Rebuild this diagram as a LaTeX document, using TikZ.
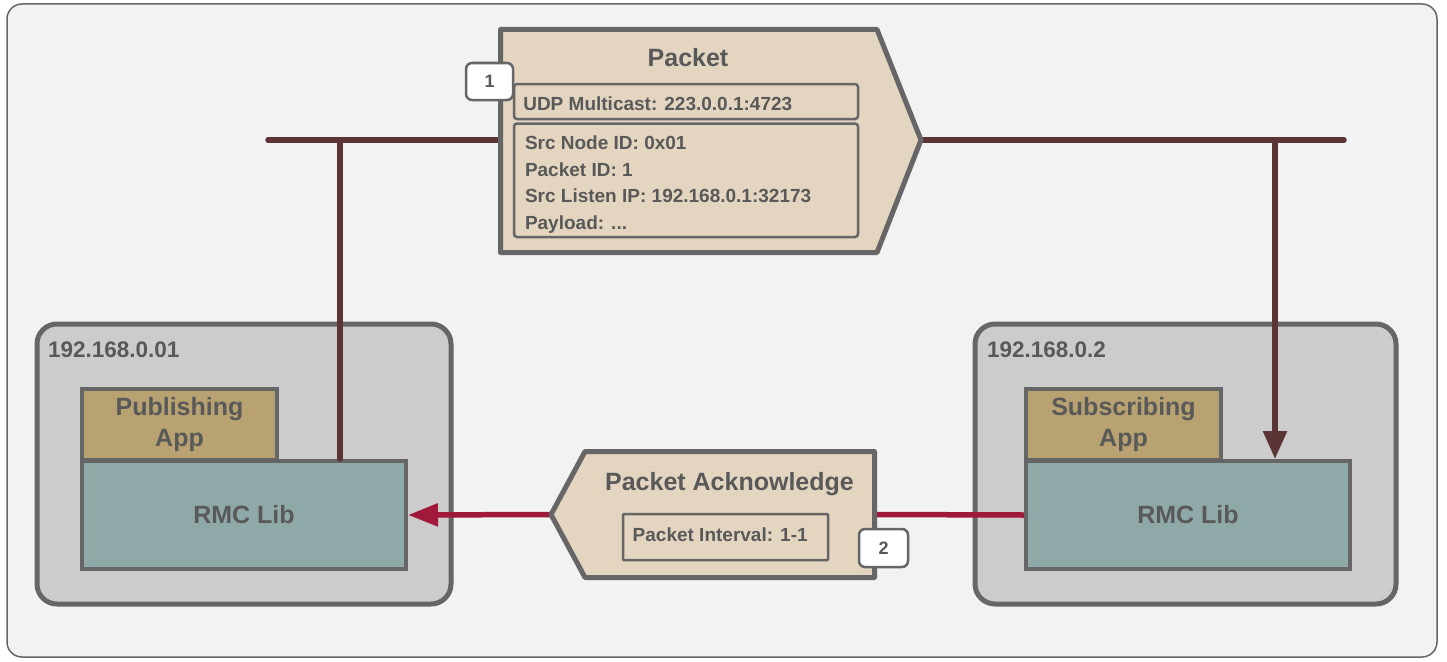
\documentclass[tikz,border=0pt]{standalone}
\usepackage{fontspec}
\setmainfont{Liberation Sans}
\usetikzlibrary{arrows.meta}
\definecolor{bgc}{HTML}{F2F2F2}
\definecolor{edge}{HTML}{666666}
\definecolor{hostc}{HTML}{CCCCCC}
\definecolor{msgc}{HTML}{E3D5C0}
\definecolor{appc}{HTML}{B9A271}
\definecolor{libc}{HTML}{8FA9A9}
\definecolor{busc}{HTML}{5B3536}
\definecolor{ackc}{HTML}{A0193A}
\definecolor{txtc}{HTML}{595959}
\newcommand\fbig{\fontsize{25}{30.5}\selectfont\bfseries}
\newcommand\fmid{\fontsize{22.5}{26}\selectfont\bfseries}
\newcommand\fsmall{\fontsize{19}{22}\selectfont\bfseries}
\newcommand\fbadge{\fontsize{18}{20}\selectfont\bfseries}
\tikzset{
  every node/.style={text=txtc, inner sep=0pt, outer sep=0pt},
  hostbox/.style={draw=edge, fill=hostc, line width=5pt, rounded corners=20pt},
  appbox/.style={draw=edge, fill=appc, line width=4pt, align=center, font=\fbig},
  libbox/.style={draw=edge, fill=libc, line width=4pt, outer sep=2pt, font=\fbig},
  msgshape/.style={draw=edge, fill=msgc, line width=5pt, line join=round},
  fieldbox/.style={draw=edge, line width=2.5pt, rounded corners=3pt},
  badge/.style={draw=edge, fill=white, line width=2.5pt, rounded corners=6pt, font=\fbadge},
  bus/.style={draw=busc, line width=5.5pt, line cap=round},
  ackline/.style={draw=ackc, line width=5.5pt},
  fieldtxt/.style={anchor=base west, font=\fsmall},
}
\begin{document}
\begin{tikzpicture}[x=1pt,y=-1pt]
\useasboundingbox (0,0) rectangle (1447,661);
\draw[draw=edge, fill=bgc, line width=1.5pt, rounded corners=15pt] (7,4) rectangle (1437,657);

% bus
\coordinate (busL) at (268,140);
\coordinate (busR) at (1344,140);
\coordinate (pktW) at (500.5,140);
\coordinate (pktTip) at (921,140);
\coordinate (tapL) at (340,140);
\coordinate (tapR) at (1275,140);
\draw[bus] (busL) -- (pktW);
\draw[bus] (pktTip) -- (busR);

% packet
\draw[msgshape] (500.5,29.5) -- (877,29.5) -- (pktTip) -- (877,252.5) -- (500.5,252.5) -- cycle;
\node[anchor=base, font=\fbig] (pkttitle) at (688,66.7) {Packet};
\node[fieldbox, minimum width=344pt, minimum height=35pt] (f1) at (686,101.5) {};
\node[fieldbox, minimum width=344pt, minimum height=113.5pt] (f2) at (686,180.25) {};
\node[fieldtxt] (t1) at (523.3,110.7) {UDP Multicast: 223.0.0.1:4723};
\node[fieldtxt] (t2) at (525,149.3) {Src Node ID: 0x01};
\node[fieldtxt] (t3) at (525,176) {Packet ID: 1};
\node[fieldtxt] (t4) at (525,202.7) {Src Listen IP: 192.168.0.1:32173};
\node[fieldtxt] (t5) at (525,229.3) {Payload: ...};
\node[badge, minimum width=47pt, minimum height=37pt] (b1) at (489.5,81.5) {1};

% hosts
\node[hostbox, minimum width=414pt, minimum height=280pt] (h1) at (244,464) {};
\node[hostbox, minimum width=421pt, minimum height=280pt] (h2) at (1185.5,464) {};
\node[anchor=base west, font=\fmid] (h1l) at (48,357) {192.168.0.01};
\node[anchor=base west, font=\fmid] (h2l) at (987,357) {192.168.0.2};

\node[appbox, minimum width=195pt, minimum height=71pt] (app1) at (179.5,424.5) {Publishing\\App};
\node[appbox, minimum width=195pt, minimum height=71pt] (app2) at (1123.5,424.5) {Subscribing\\App};
\node[libbox, minimum width=324pt, minimum height=108pt] (lib1) at (244,515) {RMC Lib};
\node[libbox, minimum width=324pt, minimum height=108pt] (lib2) at (1188,515) {RMC Lib};

\draw[bus] (tapL) -- (tapL |- lib1.north);
\draw[bus, line cap=butt, -{Triangle[length=28pt,width=23pt]}] (tapR) -- (tapR |- lib2.north);

% acknowledge
\coordinate (ackW) at (551,514.5);
\coordinate (ackE) at (874.5,514.5);
\draw[ackline] (lib2.west) -- (ackE);
\draw[ackline, -{Triangle[length=30pt,width=22pt]}] (ackW) -- (lib1.east);
\draw[msgshape] (585,451.5) -- (874.5,451.5) -- (874.5,577.5) -- (585,577.5) -- (ackW) -- cycle;
\node[anchor=base, font=\fbig] (acktitle) at (729.5,490) {Packet Acknowledge};
\node[fieldbox, rounded corners=1pt, minimum width=205pt, minimum height=46pt] (f3) at (725.5,537) {};
\node[fieldtxt] (t6) at (632.7,541.7) {Packet Interval: 1-1};
\node[badge, minimum width=49pt, minimum height=38pt] (b2) at (883.5,548) {2};
\end{tikzpicture}
\end{document}
